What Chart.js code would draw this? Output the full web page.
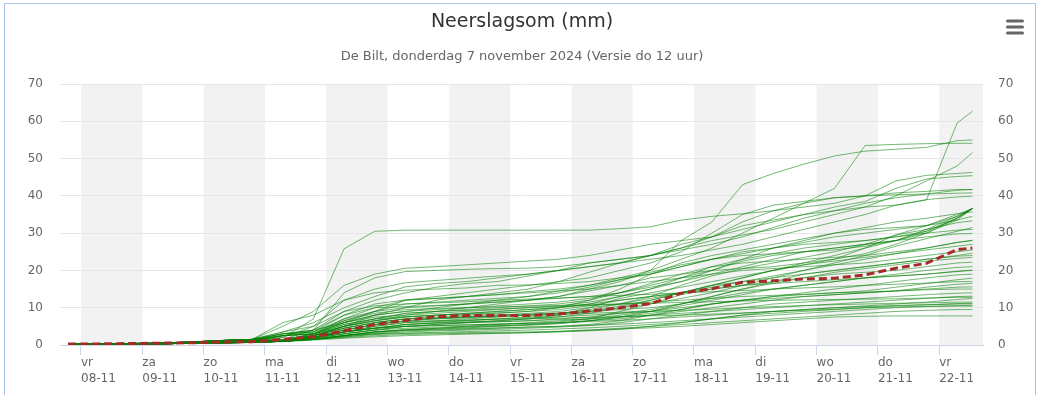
<!DOCTYPE html>
<html>
<head>
<meta charset="utf-8">
<script src="https://cdn.jsdelivr.net/npm/chart.js@4.4.1/dist/chart.umd.min.js"></script>
<style>
  html, body { margin: 0; padding: 0; background: #fff; }
  canvas { display: block; }
</style>
</head>
<body>
<canvas id="plume" width="1043" height="395"></canvas>
<script>
const chartTitle = 'Neerslagsom (mm)';
const chartSubtitle = 'De Bilt, donderdag 7 november 2024 (Versie do 12 uur)';

// day ticks, hours after 08-11 00:00
const dayTicks = [0, 24, 48, 72, 96, 120, 144, 168, 192, 216, 240, 264, 288, 312, 336];
const dayNames = ['vr', 'za', 'zo', 'ma', 'di', 'wo', 'do', 'vr', 'za', 'zo', 'ma', 'di', 'wo', 'do', 'vr'];
const dayLabels = ['08-11', '09-11', '10-11', '11-11', '12-11', '13-11', '14-11', '15-11',
                   '16-11', '17-11', '18-11', '19-11', '20-11', '21-11', '22-11'];
const shadedDays = [0, 48, 96, 144, 192, 240, 288, 336];

// time of every point (hours after 08-11 00:00), every 12 hours
const hours = [-5, 7, 19, 31, 43, 55, 67, 79, 91, 103, 115, 127, 139, 151, 163, 175,
               187, 199, 211, 223, 235, 247, 259, 271, 283, 295, 307, 319, 331, 343, 349];

// ensemble mean (dashed red)
const meanSum = [0.3, 0.3, 0.4, 0.5, 0.6, 0.8, 0.9, 1.5, 2.2, 3.8, 5.5, 6.6, 7.6, 7.9, 7.9, 7.9,
                 8.3, 9.1, 10.0, 11.1, 13.9, 15.1, 16.8, 17.2, 17.7, 17.9, 18.8, 20.6, 21.9, 25.6, 26.0];

// ensemble members (green)
const members = [
  [0.3,0.3,0.3,0.4,0.6,0.9,1.1, 2,7,25.8,30.5,30.8,30.8,30.8,30.8,30.8,30.8,30.8,31.2,31.7,33.5,34.5,35.2,36,38,39.5,40,40.8,41.2,41.7,41.7],
  [0.3,0.3,0.4,0.5,0.8,1.2,1.5, 2,5,9,12,14,15.5,16.5,17,18.5,20,22,23,24,26,29,31,33,35,36,37,37.5,38.9,59.5,62.7],
  [0.3,0.3,0.4,0.5,0.8,1.2,1.5, 1.5,3,5,6.5,8,9,10,11,12,13,15,17,20,28,33,43,46,48.5,50.7,52,52.5,53,54.8,55],
  [0.3,0.3,0.4,0.5,0.8,1.2,1.5, 2.5,4,6,8,9,10,11,12,13,14.5,16,18,20,23,26,30,34,38,42,53.5,53.8,54,54.1,54.1],
  [0.3,0.3,0.3,0.4,0.6,0.9,1.1, 1.2,2.5,5,8,10,12,13,14,15,17,19.5,22,24,26,28,29.5,31,33,35,37,40,44,48,51.6],
  [0.3,0.3,0.4,0.5,0.8,1.2,1.5, 5,9,16,19,20.6,21,21.5,22,22.5,23,24,25.5,27,28,29,33,36,37,38,40,44,45.5,46,46.3],
  [0.3,0.3,0.4,0.5,0.8,1.2,1.5, 3.5,6,10,13,15.6,16.5,17,18,19,20,21,22,24,27,29,32,33.5,35,37,38.5,42,44.5,45.2,45.4],
  [0.3,0.3,0.4,0.5,0.8,1.2,1.5, 1.5,4,14,18,19.7,20,20.3,20.5,20.6,21,22,23,24,25.5,27,29,31.5,34,36,38,39.5,40.5,41.5,41.7],
  [0.3,0.3,0.3,0.4,0.6,0.9,1.1, 1.2,3,6,9,12,13,14,15,16,17,18,20,22,25,30,35,37.5,38.5,39.5,40,40.3,40.5,40.7,40.8],
  [0.3,0.3,0.4,0.5,0.8,1.2,1.5, 6,8,12,15,16.7,17.3,17.9,18.5,19,20,21,22,23,24,25.5,27,29,31,33,35,37.5,39,39.7,39.9],
  [0.3,0.3,0.4,0.5,0.8,1.2,1.5, 2.5,3.5,7,10,12,12.5,13,13.5,14.3,15,16,17.5,19,21,23,25,26,27,27.5,28,29,30.5,34,36.6],
  [0.3,0.3,0.3,0.4,0.6,0.9,1.1, 1.2,2.5,5,7,8.5,9,9.5,10,10.5,11,12,14,16,18,20,23,26,28,30,31,31.5,32,34.5,36.6],
  [0.3,0.3,0.4,0.5,0.8,1.2,1.5, 3,4,8,10,10.3,10.6,11,11.5,12,13,14.5,16,18,19,20,20.5,21,22,23,24.5,27,30,34,36.6],
  [0.3,0.3,0.3,0.3,0.5,0.6,0.7, 1,2,4,5.5,6.5,7,7.5,8,8.5,9,10,11,12.5,14,16,18,20,21.5,23,26,29.5,32,35,36.6],
  [0.3,0.3,0.3,0.4,0.6,0.9,1.1, 1.3,3,6,7.5,8,8.5,9,9.5,10,10.5,11.5,13,15,17,20,22.5,24,25,26,27,28,31,34.5,36.6],
  [0.3,0.3,0.3,0.4,0.6,0.9,1.1, 1.2,2.5,4.5,6,7,7.5,8,8.5,9,10,12,15,19,22,24,25.5,27,28.5,30,31.5,33,34,35.2,35.7],
  [0.3,0.3,0.4,0.5,0.8,1.2,1.5, 3.5,5,12,14,14.7,15,15.3,16,16.1,16.5,17,18,19,21,23,24.5,26,27.5,29,30,31,32,33.5,34.5],
  [0.3,0.3,0.3,0.4,0.6,0.9,1.1, 1.2,2.2,4,5.5,6.5,7,7.3,7.6,8,8.5,9.5,11,13,16,18.5,20.5,22,23.5,25,27,29.5,31,32.8,33.3],
  [0.3,0.3,0.3,0.3,0.5,0.6,0.7, 1,2,3.5,5,6,6.5,7,7.5,8,8.5,9,10,11,12.5,14,16,18,20,22,24,26.5,28.5,30.5,31.5],
  [0.3,0.3,0.3,0.4,0.6,0.9,1.1, 2.5,3,7,9,10,10.5,11,11.5,12,12.5,13,14,15.5,17,19,21,23,25,26,27,28,29,29.8,29.9],
  [0.3,0.3,0.3,0.4,0.6,0.9,1.1, 1.2,2.5,5,6.5,7.5,8,8.5,9,9.5,10,11,12,13,14,15.5,17,18.5,20,21.5,23,24.5,26,27.5,28.1],
  [0.3,0.3,0.3,0.3,0.5,0.6,0.7, 1,2,3,4,5,5.5,6,6.5,7,8,10,12.5,14,15.5,17,18.5,20,21.5,22.5,23.5,24.5,25.5,26.5,27],
  [0.3,0.3,0.4,0.5,0.8,1.2,1.5, 3,3.5,8,11,12.1,12.5,13,13.5,14,14.5,15,16,17,18,19,20,20.5,21,21.5,22,23,24,25,25.5],
  [0.3,0.3,0.3,0.3,0.5,0.6,0.7, 1.1,2,3.5,4.5,5.5,6,6.2,6.5,7,7.5,8.5,10,12,14,16,17,18,19,20,21,22,23,24,24.6],
  [0.3,0.3,0.3,0.3,0.5,0.6,0.7, 1,1.8,3,4,5,5.5,6,6.3,6.5,7,7.5,8.5,9.5,11,13,15,16.5,18,19.5,20.5,21.5,22.5,23.2,23.5],
  [0.3,0.3,0.3,0.4,0.6,0.9,1.1, 1.3,2.8,5.5,7,7.6,8,8.3,8.6,9,9.5,10.5,12,13,14,15,16,17,18,19,19.5,20,21,22,22.2],
  [0.3,0.3,0.3,0.3,0.5,0.6,0.7, 1,1.5,2.5,3.5,4,4.5,5,5.5,6,6.5,7,8,9,10.5,12,13.5,15,16,17,18,19,20,20.8,21],
  [0.3,0.3,0.3,0.4,0.6,0.9,1.1, 1.2,2.5,4.5,6,7,7.3,7.6,8,8.3,8.6,9,9.5,10,11,12.5,14,15,16,17,18,18.5,19,19.8,20.1],
  [0.3,0.3,0.3,0.3,0.5,0.6,0.7, 1,1.6,2.5,3.5,4,4.3,4.6,5,5.3,5.7,6.5,7.5,8.5,9.5,11,12,13,14,15,16,17,18,18.8,19],
  [0.3,0.3,0.3,0.3,0.5,0.6,0.7, 1.1,2,3.5,5,6,6.3,6.6,7,7.3,7.6,8,8.5,9,10,11,12,13,13.5,14,14.5,15.5,16.5,17.5,17.9],
  [0.3,0.3,0.3,0.3,0.5,0.6,0.7, 1,1.8,3,4,4.5,4.8,5,5.2,5.5,6,6.5,7,8,9,10,11,12,13,13.5,14,14.5,15.5,16.3,16.5],
  [0.3,0.3,0.3,0.3,0.5,0.6,0.7, 1,1.5,2.5,3.2,3.8,4,4.2,4.5,4.8,5,5.5,6.5,8,9.5,11,12,12.5,13,13.5,14,14.5,15,15.5,15.6],
  [0.3,0.3,0.3,0.4,0.6,0.9,1.1, 2.5,3,5.5,7,8.5,9,9.3,9.6,10,10.3,10.6,11,11.5,12,12.5,13,13.3,13.6,14,14.2,14.5,14.8,15,15],
  [0.3,0.3,0.3,0.3,0.5,0.6,0.7, 1,1.5,2.2,3,3.5,3.8,4,4.2,4.5,4.8,5.2,6,7,8,9,10,11,11.5,12,12.5,13,13.5,13.9,14],
  [0.3,0.3,0.3,0.3,0.5,0.6,0.7, 1.1,2,3.5,4.5,5.5,5.8,6,6.2,6.5,6.8,7,7.5,8,8.5,9,9.5,10,10.5,11,11.5,12,12.5,13,13.1],
  [0.3,0.3,0.3,0.3,0.5,0.6,0.7, 1,1.5,2.5,3,3.2,3.4,3.6,3.8,4,4.3,4.6,5,5.5,6,7,8,9,9.5,10,10.5,11,11.5,12.2,12.5],
  [0.3,0.3,0.3,0.4,0.6,0.9,1.1, 1.2,2.5,4.5,6,7,7.2,7.5,7.8,8,8.2,8.5,8.8,9,9.3,9.6,10,10.3,10.6,10.8,11,11.2,11.3,11.5,11.5],
  [0.3,0.3,0.3,0.3,0.5,0.6,0.7, 1,1.5,2,2.5,2.8,3,3.1,3.2,3.3,3.5,3.8,4.2,5,6,7,8,8.5,9,9.5,10,10.5,10.8,11.1,11.2],
  [0.3,0.3,0.3,0.3,0.5,0.6,0.7, 1.1,2,3.5,4.5,5,5.2,5.4,5.6,5.8,6,6.3,6.6,7,7.5,8,8.5,9,9.5,10,10.3,10.6,10.8,11,11],
  [0.3,0.3,0.3,0.3,0.5,0.6,0.7, 1,1.6,2.5,3.5,4,4.2,4.4,4.6,4.8,5,5.3,5.6,6,6.5,7,7.5,8,8.5,9,9.5,10,10.3,10.5,10.5],
  [0.3,0.3,0.3,0.4,0.6,0.9,1.1, 1.2,2.2,4,5.5,6.3,6.5,6.7,6.9,7,7.2,7.4,7.6,7.8,8,8.3,8.6,9,9.3,9.6,10,10.2,10.4,10.5,10.5],
  [0.3,0.3,0.3,0.3,0.5,0.6,0.7, 0.9,1.3,1.8,2.2,2.5,2.7,2.9,3.1,3.3,3.6,4,4.5,5,5.5,6,6.5,7,7.5,8,8.5,9,9.3,9.5,9.5],
  [0.3,0.3,0.3,0.3,0.5,0.6,0.7, 1,1.5,2.2,2.8,3.1,3.2,3.3,3.4,3.5,3.7,4,4.3,4.6,5,5.5,6,6.5,7,7.5,7.7,7.8,7.8,7.8,7.8],
  [0.3,0.3,0.3,0.4,0.6,0.9,1.1, 3,3.5,6.5,8.5,9.5,9.8,10,10.2,10.4,10.6,10.8,11,11.2,11.4,11.6,11.8,12,12.1,12.2,12.3,12.4,12.6,12.8,12.8],
  [0.3,0.3,0.3,0.4,0.6,0.9,1.1, 2.5,3,6.5,9,11,11.5,12,12.5,13,14,15.5,17.5,19.5,21.5,23,24,24.5,25,25.5,26.5,28,30,33.5,36.6],
  [0.3,0.3,0.3,0.3,0.5,0.6,0.7, 1.1,2,3.5,4.5,5,5.2,5.4,5.6,5.8,6.2,7,9,11,13.5,15,16,16.5,17,17.5,18,18.5,19,19.7,20],
  [0.3,0.3,0.3,0.4,0.6,0.9,1.1, 2.5,3,6,8,9,9.5,10,10.5,11,11.5,12.5,14,16.5,19,21,22,22.5,23,23.5,24,25,26,27.5,28],
  [0.3,0.3,0.3,0.3,0.5,0.6,0.7, 1,1.6,2.6,3.5,4.2,4.5,4.8,5.1,5.4,5.8,6.5,7.5,9,11,13,15,17,19,20,21,22,23,23.8,24],
  [0.3,0.3,0.4,0.5,0.8,1.2,1.5, 3,4,9,10.5,11,11.3,11.6,12,12.3,12.6,13,13.3,13.6,14,14.3,14.6,15,15.3,15.6,16,16.3,16.6,17,17],
  [0.3,0.3,0.3,0.4,0.6,0.9,1.1, 1.2,2.5,5,6.5,7.5,8,8.5,9,9.5,10,11,13,15,18,21,23,24.5,26,27,28,29,30,30.8,31],
  [0.3,0.3,0.3,0.3,0.5,0.6,0.7, 1,2,3.5,4.5,5.5,6,6.5,7,7.5,8,9,10.5,12,14,16,18,20,22,24,26,28,30.5,34,36.6]
];

// --- plugins: day shading, title block, menu icon, frame ---
const dayBands = {
    id: 'dayBands',
    beforeDraw(chart) {
        const { ctx, chartArea, scales } = chart;
        ctx.save();
        ctx.fillStyle = '#f2f2f2';
        shadedDays.forEach(start => {
            let x1 = Math.max(scales.x.getPixelForValue(start), chartArea.left);
            let x2 = Math.min(scales.x.getPixelForValue(start + 24), chartArea.right);
            if (x2 > x1) ctx.fillRect(x1, chartArea.top, x2 - x1, chartArea.bottom - chartArea.top);
        });
        ctx.restore();
    }
};

const decorations = {
    id: 'decorations',
    afterDraw(chart) {
        const ctx = chart.ctx;
        ctx.save();
        // titles
        ctx.textAlign = 'center';
        ctx.textBaseline = 'middle';
        ctx.fillStyle = '#333333';
        ctx.font = '19px "DejaVu Sans"';
        ctx.fillText(chartTitle, 522, 22);
        ctx.fillStyle = '#666666';
        ctx.font = '13px "DejaVu Sans"';
        ctx.fillText(chartSubtitle, 522, 57);
        // hamburger menu
        ctx.strokeStyle = '#666666';
        ctx.lineWidth = 3;
        ctx.lineCap = 'round';
        [21, 27, 33].forEach(y => {
            ctx.beginPath();
            ctx.moveTo(1007.5, y);
            ctx.lineTo(1022.5, y);
            ctx.stroke();
        });
        // frame
        ctx.strokeStyle = '#a8c4ee';
        ctx.lineWidth = 1;
        ctx.strokeRect(4.5, 3.5, 1031, 500);
        ctx.restore();
    }
};

// --- chart ---
const tickFont = { family: 'DejaVu Sans', size: 12, lineHeight: 1.3 };

const datasets = [{
    label: 'gemiddelde',
    data: hours.map((h, i) => ({ x: h, y: meanSum[i] })),
    borderColor: '#a52a2a',
    borderWidth: 3,
    borderDash: [8, 4],
    pointRadius: 0,
    tension: 0
}];
members.forEach((m, n) => {
    datasets.push({
        label: 'lid ' + (n + 1),
        data: hours.map((h, i) => ({ x: h, y: m[i] })),
        borderColor: 'rgba(0, 128, 0, 0.55)',
        borderWidth: 1,
        pointRadius: 0,
        tension: 0
    });
});

new Chart(document.getElementById('plume'), {
    type: 'line',
    data: { datasets },
    plugins: [dayBands, decorations],
    options: {
        responsive: false,
        animation: false,
        devicePixelRatio: 1,
        layout: { padding: { top: 84, left: 0, right: 0, bottom: 0 } },
        plugins: { legend: { display: false }, tooltip: { enabled: false } },
        scales: {
            x: {
                type: 'linear',
                min: -8.22,
                max: 353.15,
                afterBuildTicks: axis => { axis.ticks = dayTicks.map(v => ({ value: v })); },
                afterFit: axis => { axis.height = 50; },
                ticks: {
                    autoSkip: false,
                    maxRotation: 0,
                    align: 'start',
                    padding: 0,
                    color: '#666666',
                    font: tickFont,
                    callback: (value, index) => [dayNames[index], dayLabels[index]]
                },
                grid: { drawOnChartArea: false, drawTicks: true, tickLength: 10, color: '#ccd6eb' },
                border: { display: true, color: '#ccd6eb' }
            },
            y: {
                position: 'left',
                min: 0,
                max: 70,
                afterFit: axis => { axis.width = 60; },
                ticks: { stepSize: 10, padding: 17, color: '#666666', font: tickFont },
                grid: {
                    drawTicks: false,
                    color: ctx => ctx.tick && ctx.tick.value === 0 ? '#ccd6eb' : '#e6e6e6'
                },
                border: { display: false }
            },
            y2: {
                position: 'right',
                min: 0,
                max: 70,
                afterFit: axis => { axis.width = 60; },
                ticks: { stepSize: 10, padding: 15, color: '#666666', font: tickFont },
                grid: { drawOnChartArea: false, drawTicks: false },
                border: { display: false }
            }
        }
    }
});
</script>
</body>
</html>
